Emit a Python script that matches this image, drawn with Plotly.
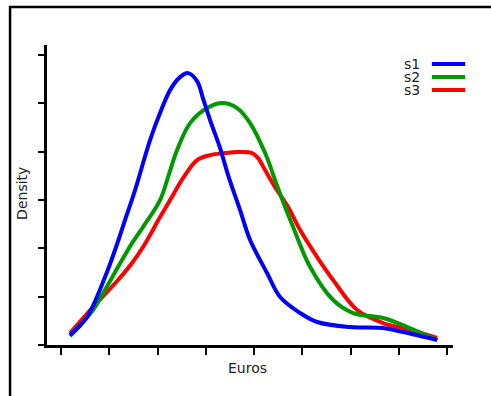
import plotly.graph_objects as go

# Data
s1_x = [0.187, 0.539, 0.912, 1.119, 1.326, 1.534, 1.845, 2.052, 2.259, 2.466, 2.632, 2.819, 2.943, 3.088, 3.295, 3.461, 3.710, 3.917, 4.269, 4.539, 4.953, 5.306, 5.990, 6.674, 7.088, 7.793]
s1_y = [0.207, 0.579, 1.407, 1.966, 2.586, 3.207, 4.242, 4.800, 5.276, 5.545, 5.628, 5.463, 5.100, 4.655, 4.076, 3.518, 2.793, 2.173, 1.490, 0.993, 0.662, 0.476, 0.372, 0.352, 0.269, 0.103]

s2_x = [0.187, 0.663, 0.912, 1.181, 1.472, 1.699, 2.052, 2.218, 2.404, 2.674, 3.026, 3.337, 3.648, 3.917, 4.228, 4.435, 4.642, 4.808, 5.161, 5.637, 6.052, 6.674, 7.171, 7.793]
s2_y = [0.186, 0.724, 1.138, 1.614, 2.110, 2.442, 3.000, 3.476, 4.035, 4.593, 4.904, 5.007, 4.904, 4.593, 3.973, 3.414, 2.855, 2.442, 1.614, 0.931, 0.662, 0.559, 0.372, 0.103]

s3_x = [0.187, 0.663, 1.181, 1.472, 1.699, 2.052, 2.259, 2.528, 2.819, 3.088, 3.399, 3.668, 3.959, 4.083, 4.228, 4.435, 4.705, 4.953, 5.306, 5.637, 6.135, 6.674, 7.171, 7.793]
s3_y = [0.248, 0.786, 1.345, 1.697, 2.028, 2.648, 3.000, 3.455, 3.828, 3.931, 3.973, 3.993, 3.973, 3.869, 3.621, 3.269, 2.855, 2.379, 1.821, 1.345, 0.724, 0.455, 0.331, 0.145]

series_names = ["s1", "s2", "s3"]
series_colors = ["#0000ff", "#009900", "#ff0000"]
x_ticks = [0, 1, 2, 3, 4, 5, 6, 7, 8]
y_ticks = [0, 1, 2, 3, 4, 5, 6]

xs = [s1_x, s2_x, s3_x]
ys = [s1_y, s2_y, s3_y]

fig = go.Figure()
for i in [2, 1, 0]:
    fig.add_trace(go.Scatter(x=xs[i], y=ys[i], mode="lines", name=series_names[i],
                             line=dict(color=series_colors[i], width=4, shape="spline", smoothing=1.0),
                             showlegend=False))

FONT = "DejaVu Sans"
fig.update_layout(
    width=491, height=396,
    margin=dict(l=47, r=38, t=45, b=51),
    paper_bgcolor="white", plot_bgcolor="white",
    font=dict(family=FONT, size=14, color="#222"),
    xaxis=dict(range=[-0.29, 8.12], tickvals=x_ticks, showticklabels=False, ticks="outside",
               ticklen=7, tickwidth=2, tickcolor="black", showline=True, linewidth=3,
               linecolor="black", showgrid=False, zeroline=False),
    yaxis=dict(range=[0, 6.21], tickvals=y_ticks, showticklabels=False, ticks="outside",
               ticklen=6, tickwidth=2, tickcolor="black", showline=True, linewidth=3,
               linecolor="black", showgrid=False, zeroline=False),
)

annotations = [
    dict(text="Euros", xref="paper", yref="paper", x=0.493, y=-0.077, showarrow=False,
         xanchor="center", yanchor="middle", font=dict(family=FONT, size=14, color="#222")),
    dict(text="Density", xref="paper", yref="paper", x=-0.0616, y=0.507, showarrow=False,
         textangle=-90, xanchor="center", yanchor="middle", font=dict(family=FONT, size=14, color="#222")),
]
shapes = [
    dict(type="rect", xref="paper", yref="paper", x0=-0.091, x1=1.3, y0=-0.4, y1=1.127,
         line=dict(color="black", width=2.5), fillcolor="rgba(0,0,0,0)", layer="below"),
]
leg_y = [0.937, 0.893, 0.85]
for name, color, ly in zip(series_names, series_colors, leg_y):
    annotations.append(dict(text=name, xref="paper", yref="paper", x=0.921, y=ly, showarrow=False,
                            xanchor="right", yanchor="middle", height=12, borderpad=0,
                            font=dict(family=FONT, size=14, color="#222")))
    shapes.append(dict(type="line", xref="paper", yref="paper", x0=0.948, x1=1.030, y0=ly, y1=ly,
                       line=dict(color=color, width=4)))

fig.update_layout(annotations=annotations, shapes=shapes)
fig.write_html("out.html", config={"displayModeBar": False},
               post_script="document.body.style.margin='0px';")
